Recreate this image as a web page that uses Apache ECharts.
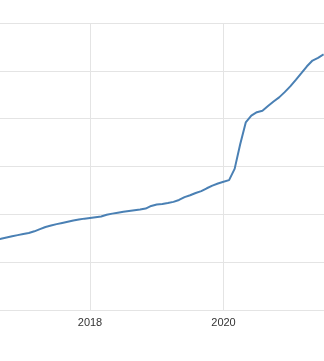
<!DOCTYPE html>
<html>
<head>
<meta charset="utf-8">
<script src="https://cdn.jsdelivr.net/npm/echarts@6/dist/echarts.min.js"></script>
<style>
html,body{margin:0;padding:0;background:#fff;}
#chart{width:324px;height:361px;}
</style>
</head>
<body>
<div id="chart"></div>
<script>
// Monthly series, starting Aug 2016 (first of month)
const startYear = 2016;
const startMonth = 8; // August
const values = [
  12930, 12980, 13030, 13080, 13130,               // Aug-Dec 2016
  13180, 13220, 13290, 13380, 13470, 13530, 13590, 13640, 13690, 13740, 13780, 13820, // 2017
  13850, 13880, 13910, 13980, 14030, 14070, 14110, 14140, 14170, 14200, 14240, 14350, // 2018
  14410, 14430, 14470, 14520, 14600, 14720, 14800, 14890, 14970, 15090, 15200, 15290, // 2019
  15360, 15430, 15900, 16930, 17840, 18130, 18270, 18330, 18530, 18720, 18890, 19110, // 2020
  19350, 19620, 19900, 20190, 20430, 20540, 20690  // Jan-Jul 2021
];
const xTicks = [2016, 2018, 2020, 2022];
const yTicks = [10000, 12000, 14000, 16000, 18000, 20000, 22000];

const data = values.map((v, i) => {
  const m = startMonth - 1 + i;
  return [startYear + m / 12, v];
});

const chart = echarts.init(document.getElementById('chart'), null, {renderer: 'canvas'});
chart.setOption({
  animation: false,
  backgroundColor: '#ffffff',
  grid: {left: -43.5, right: -33, top: 23, bottom: 51, containLabel: false, outerBoundsMode: 'none'},
  xAxis: {
    type: 'value',
    min: xTicks[0],
    max: xTicks[xTicks.length - 1],
    interval: xTicks[1] - xTicks[0],
    axisLine: {show: false},
    axisTick: {show: false},
    axisLabel: {
      show: true, margin: 7, color: '#333',
      fontSize: 11, fontFamily: 'Liberation Sans, Arial, sans-serif',
      formatter: v => String(Math.round(v))
    },
    splitLine: {show: true, lineStyle: {color: '#e4e4e4', width: 1}}
  },
  yAxis: {
    type: 'value',
    min: yTicks[0],
    max: yTicks[yTicks.length - 1],
    interval: yTicks[1] - yTicks[0],
    axisLine: {show: false},
    axisTick: {show: false},
    axisLabel: {show: false},
    splitLine: {show: true, lineStyle: {color: '#e4e4e4', width: 1}}
  },
  series: [{
    type: 'line',
    data: data,
    showSymbol: false,
    smooth: false,
    lineStyle: {color: '#4a80b4', width: 2},
    itemStyle: {color: '#4a80b4'}
  }]
});
</script>
</body>
</html>
